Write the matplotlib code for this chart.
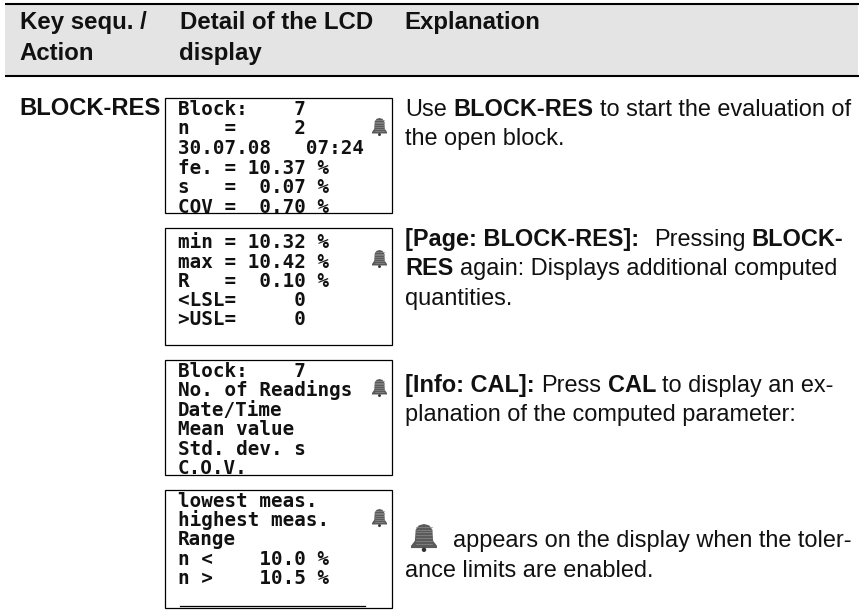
import matplotlib
matplotlib.use('Agg')
import matplotlib.pyplot as plt
from matplotlib.patches import Rectangle, Polygon, Circle

# table text
header_cols = [
    ['Key sequ. /', 'Action'],
    ['Detail of the LCD', 'display'],
    ['Explanation'],
]
key_action = 'BLOCK-RES'

lcd_screens = [
    ['Block:    7', 'n   =     2', '30.07.08   07:24', 'fe. = 10.37 %', 's   =  0.07 %', 'COV =  0.70 %'],
    ['min = 10.32 %', 'max = 10.42 %', 'R   =  0.10 %', '<LSL=     0', '>USL=     0'],
    ['Block:    7', 'No. of Readings', 'Date/Time', 'Mean value', 'Std. dev. s', 'C.O.V.'],
    ['lowest meas.', 'highest meas.', 'Range', 'n <    10.0 %', 'n >    10.5 %'],
]

# (text, bold) pieces per line
explain_1 = [[('Use', 0), ('BLOCK-RES', 1), ('to start the evaluation of', 0)],
             [('the open block.', 0)]]
explain_2 = [[('[Page: BLOCK-RES]:', 1), ('', 0), ('Pressing', 0), ('BLOCK-', 1)],
             [('RES', 1), ('again: Displays additional computed', 0)],
             [('quantities.', 0)]]
explain_3 = [[('[Info: CAL]:', 1), ('Press', 0), ('CAL', 1), ('to display an ex-', 0)],
             [('planation of the computed parameter:', 0)]]
explain_4 = [[('appears on the display when the toler-', 0)],
             [('ance limits are enabled.', 0)]]

fig = plt.figure(figsize=(8.6, 6.15), dpi=100)
ax = fig.add_axes([0, 0, 1, 1])
ax.set_xlim(0, 860)
ax.set_ylim(615, 0)
ax.axis('off')

SANS = 'Liberation Sans'
MONO = 'DejaVu Sans Mono'
BODY = 16.95
rend = fig.canvas.get_renderer()


def runs(x, y, pieces):
    # bold and regular pieces on one baseline
    for s, bold in pieces:
        t = ax.text(x, y, s, family=SANS, fontsize=BODY, va='baseline', color='#111111',
                    fontweight='bold' if bold else 'normal')
        x += t.get_window_extent(rend).width + 6.5 if s else 8


def bell(x0, y0, w, h):
    # little alarm bell icon
    shape = [(0.5, 0), (0.7, 0.05), (0.82, 0.2), (0.85, 0.6), (1.0, 0.78), (1.0, 0.86),
             (0, 0.86), (0, 0.78), (0.15, 0.6), (0.18, 0.2), (0.3, 0.05)]
    pts = [(x0 + a * w, y0 + b * h) for a, b in shape]
    ax.add_patch(Polygon(pts, closed=True, fc='#5a5a5a', ec='none', zorder=5))
    for i in range(1, 8):
        yy = y0 + h * i * 0.1
        ax.plot([x0 + 0.2 * w, x0 + 0.8 * w], [yy, yy], color='#8c8c8c', lw=0.5, zorder=6)
    ax.add_patch(Circle((x0 + 0.5 * w, y0 + 0.92 * h), 0.08 * h, fc='#333333', ec='none', zorder=5))


# header band
ax.add_patch(Rectangle((5, 4), 853, 72, fc='#e4e4e4', ec='none'))
ax.plot([5, 859], [4.3, 4.3], color='black', lw=1.5, solid_capstyle='butt')
ax.plot([5, 859], [76, 76], color='black', lw=1.5, solid_capstyle='butt')

for col, x in zip(header_cols, [19.5, 179.5, 404.5]):
    for line, y in zip(col, [29, 60]):
        ax.text(x, y, line, family=SANS, fontsize=17.3, fontweight='bold', va='baseline', color='#111111')

ax.text(19.5, 115, key_action, family=SANS, fontsize=17.1, fontweight='bold', va='baseline', color='#111111')

# LCD screens
box_tops = [97.5, 227.5, 359.5, 489.5]
box_bottoms = [213, 345, 475, 608]
line_ys = [[115, 134.5, 154, 173.5, 193, 213],
           [247.5, 267.5, 287, 306, 325],
           [377, 396, 416, 435, 455, 474],
           [507, 526, 545, 565, 584]]
bell_tops = [118, 250, 379, 509]

for screen, top, bottom, ys, bt in zip(lcd_screens, box_tops, box_bottoms, line_ys, bell_tops):
    box = Rectangle((164.5, top), 227, bottom - top, fc='white', ec='black', lw=0.9, zorder=3)
    ax.add_patch(box)
    for line, y in zip(screen, ys):
        t = ax.text(178, y, line, family=MONO, fontsize=13.9, fontweight='bold', va='baseline',
                    color='#111111', zorder=4)
        t.set_clip_path(box)
    bell(372, bt, 15, 18)
ax.plot([180, 365], [606, 606], color='black', lw=0.9, zorder=4)

# explanations
for block, x, y0 in [(explain_1, 405, 116), (explain_2, 405, 246), (explain_3, 405, 392)]:
    for i, pieces in enumerate(block):
        runs(x, y0 + i * 29.3, pieces)
bell(411, 524, 26, 28)
runs(453, 547, explain_4[0])
runs(405, 577, explain_4[1])

fig.savefig('out.png', dpi=100)
